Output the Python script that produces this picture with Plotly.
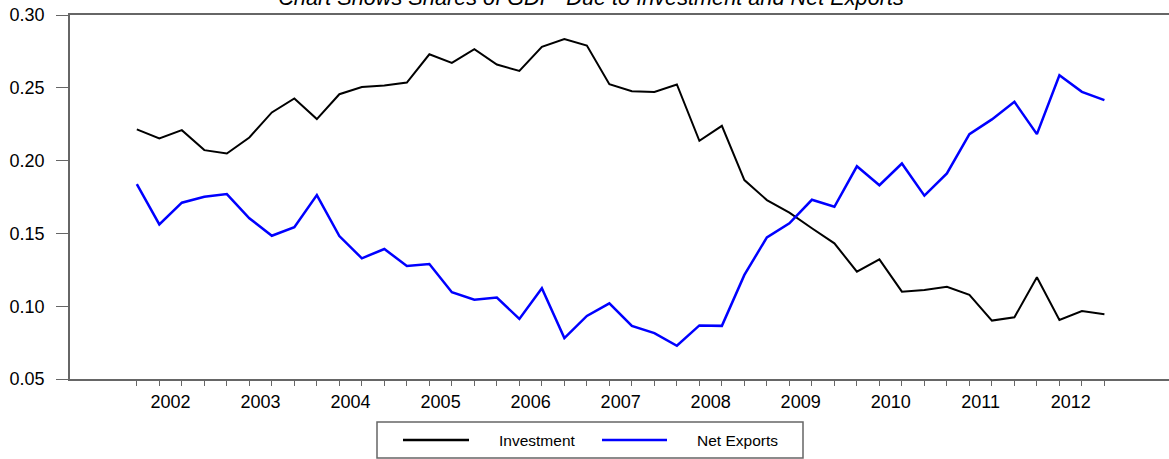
import plotly.graph_objects as go

years = ["2002", "2003", "2004", "2005", "2006", "2007", "2008", "2009", "2010", "2011", "2012"]

investment = [0.2214, 0.2152, 0.2209, 0.2072, 0.2049, 0.2159, 0.2331, 0.2427, 0.2285, 0.2456,
              0.2506, 0.2516, 0.2536, 0.2730, 0.2671, 0.2765, 0.2660, 0.2616, 0.2781, 0.2835,
              0.2790, 0.2525, 0.2477, 0.2472, 0.2523, 0.2136, 0.2239, 0.1866, 0.1729, 0.1642,
              0.1535, 0.1432, 0.1237, 0.1322, 0.1100, 0.1112, 0.1134, 0.1078, 0.0901, 0.0924,
              0.1199, 0.0905, 0.0967, 0.0945]

net_exports = [0.1839, 0.1562, 0.1711, 0.1752, 0.1770, 0.1604, 0.1484, 0.1542, 0.1763, 0.1482,
               0.1329, 0.1393, 0.1276, 0.1290, 0.1096, 0.1045, 0.1059, 0.0913, 0.1123, 0.0781,
               0.0933, 0.1020, 0.0865, 0.0815, 0.0728, 0.0868, 0.0865, 0.1215, 0.1473, 0.1569,
               0.1731, 0.1683, 0.1961, 0.1831, 0.1980, 0.1759, 0.1912, 0.2182, 0.2283, 0.2404,
               0.2182, 0.2586, 0.2472, 0.2415]

y_ticks = [0.05, 0.10, 0.15, 0.20, 0.25, 0.30]

quarters = list(range(len(investment)))
year_centers = [4 * i + 1.5 for i in range(len(years))]
year_starts = [4 * i for i in range(len(years))]

W, H = 1169, 459
ML, MR, MT, MB = 70, 0, 15, 80
PW, PH = W - ML - MR, H - MT - MB
XR = [-2.97, 45.87]
AX = "#666666"
FONT = "Liberation Sans, Arial, sans-serif"


def px_x(p):
    return (p - ML) / PW


def px_y(p):
    return (H - MB - p) / PH


fig = go.Figure()
fig.add_trace(go.Scatter(x=quarters, y=investment, mode="lines", name="Investment",
                         line=dict(color="#000000", width=2), showlegend=False))
fig.add_trace(go.Scatter(x=quarters, y=net_exports, mode="lines", name="Net Exports",
                         line=dict(color="#0000FF", width=2.5), showlegend=False))

fig.update_layout(
    width=W, height=H,
    margin=dict(l=ML, r=MR, t=MT, b=MB),
    paper_bgcolor="white", plot_bgcolor="white",
    font=dict(family=FONT, color="#000000", size=18),
    title=dict(text="<i>Chart Shows Shares of GDP&nbsp; Due to Investment and Net Exports</i>",
               x=591 / W, xanchor="center", xref="container",
               y=1 - 5 / H, yanchor="bottom", yref="container",
               font=dict(family=FONT, size=21.7, color="#000000")),
    xaxis=dict(range=XR, showgrid=False, zeroline=False,
               showline=True, linecolor=AX, linewidth=1.5, mirror=True,
               tickmode="array", tickvals=year_centers, ticktext=years,
               ticks="", ticklabelstandoff=6,
               tickfont=dict(size=18, color="#000000"),
               minor=dict(tickmode="array", tickvals=quarters, ticks="outside",
                          ticklen=5, tickwidth=1, tickcolor=AX, showgrid=False)),
    xaxis2=dict(range=XR, overlaying="x", anchor="y", side="bottom",
                showgrid=False, zeroline=False, showline=False,
                tickmode="array", tickvals=year_starts, ticks="outside",
                ticklen=11, tickwidth=1, tickcolor=AX, showticklabels=False),
    yaxis=dict(range=[0.05, 0.30], showgrid=False, zeroline=False,
               showline=True, linecolor=AX, linewidth=1.5,
               tickmode="array", tickvals=y_ticks, tickformat=".2f",
               ticks="outside", ticklen=12, tickwidth=1, tickcolor=AX,
               ticklabelstandoff=8,
               tickfont=dict(size=18, color="#000000")),
)

# legend drawn as a framed box below the plot
fig.add_shape(type="rect", xref="paper", yref="paper",
              x0=px_x(377), x1=px_x(803), y0=px_y(458), y1=px_y(422),
              line=dict(color="#666666", width=1.5), fillcolor="white")
fig.add_shape(type="line", xref="paper", yref="paper",
              x0=px_x(403), x1=px_x(469), y0=px_y(440), y1=px_y(440),
              line=dict(color="#000000", width=2.5))
fig.add_shape(type="line", xref="paper", yref="paper",
              x0=px_x(602), x1=px_x(667), y0=px_y(440), y1=px_y(440),
              line=dict(color="#0000FF", width=2.5))
fig.add_annotation(text="Investment", xref="paper", yref="paper",
                   x=px_x(497), y=px_y(440), xanchor="left", yanchor="middle",
                   showarrow=False, font=dict(family=FONT, size=15.5, color="#000000"))
fig.add_annotation(text="Net Exports", xref="paper", yref="paper",
                   x=px_x(695), y=px_y(440), xanchor="left", yanchor="middle",
                   showarrow=False, font=dict(family=FONT, size=15.5, color="#000000"))

fig.write_html("out.html",
               config={"displayModeBar": False},
               post_script="document.body.style.margin='0';document.body.style.overflow='hidden';")
